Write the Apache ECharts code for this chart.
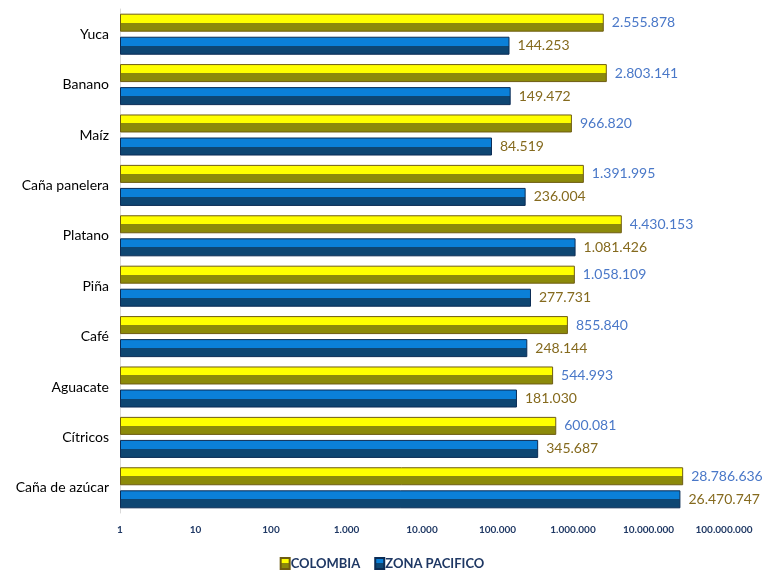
<!DOCTYPE html>
<html>
<head>
<meta charset="utf-8">
<script src="https://cdn.jsdelivr.net/npm/echarts@6/dist/echarts.min.js"></script>
<style>
  html, body { margin: 0; padding: 0; background: #fff; }
  #chart { width: 764px; height: 576px; }
</style>
</head>
<body>
<div id="chart"></div>
<script>
// cultivos, de arriba hacia abajo
var cultivos = ['Yuca', 'Banano', 'Maíz', 'Caña panelera', 'Platano', 'Piña', 'Café', 'Aguacate', 'Cítricos', 'Caña de azúcar']
var colombia = [2555878, 2803141, 966820, 1391995, 4430153, 1058109, 855840, 544993, 600081, 28786636]
var zonaPacifico = [144253, 149472, 84519, 236004, 1081426, 277731, 248144, 181030, 345687, 26470747]
var ejeMin = 1
var ejeMax = 100000000

// 1234567 -> 1.234.567
function puntos (v) {
  return String(Math.round(v)).replace(/\B(?=(\d{3})+(?!\d))/g, '.')
}

// relleno con bisel: mitad de arriba clara, mitad de abajo oscura
function bisel (claro, oscuro) {
  return new echarts.graphic.LinearGradient(0, 0, 0, 1, [
    { offset: 0, color: claro },
    { offset: 0.5, color: claro },
    { offset: 0.5, color: oscuro },
    { offset: 1, color: oscuro }
  ])
}

var chart = echarts.init(document.getElementById('chart'))
chart.setOption({
  animation: false,
  grid: { left: 120, right: 40, top: 9, bottom: 63 },
  legend: {
    bottom: 1,
    left: 'center',
    icon: 'rect',
    itemWidth: 9,
    itemHeight: 11,
    itemGap: 14,
    textStyle: {
      fontFamily: 'Lato',
      fontWeight: 'bold',
      fontSize: 13,
      color: '#1f3864',
      padding: [0, 0, 0, -4]
    },
    data: ['COLOMBIA', 'ZONA PACIFICO']
  },
  xAxis: {
    type: 'log',
    logBase: 10,
    min: ejeMin,
    max: ejeMax,
    axisLine: { show: false },
    axisTick: { show: false },
    splitLine: { show: false },
    axisLabel: {
      margin: 12,
      fontFamily: 'Lato',
      fontWeight: 'bold',
      fontSize: 10,
      color: '#1f3864',
      formatter: function (v) { return puntos(v) }
    }
  },
  yAxis: {
    type: 'category',
    inverse: true,
    data: cultivos,
    axisLine: { show: true, lineStyle: { color: '#d9d9d9', width: 1 } },
    axisTick: { show: false },
    axisLabel: {
      margin: 11,
      fontFamily: 'Lato',
      fontSize: 14,
      color: '#000'
    }
  },
  series: [
    {
      name: 'COLOMBIA',
      type: 'bar',
      data: colombia,
      barWidth: 18,
      barGap: '28%',
      itemStyle: {
        color: bisel('#ffff00', '#8c8a0a'),
        borderColor: '#6e5c12',
        borderWidth: 1
      },
      label: {
        show: true,
        position: 'right',
        distance: 8,
        fontFamily: 'Lato',
        fontSize: 14,
        color: '#4a78c8',
        formatter: function (p) { return puntos(p.value) }
      }
    },
    {
      name: 'ZONA PACIFICO',
      type: 'bar',
      data: zonaPacifico,
      barWidth: 18,
      itemStyle: {
        color: bisel('#0b80d8', '#0e4672'),
        borderColor: '#0b2c55',
        borderWidth: 1
      },
      label: {
        show: true,
        position: 'right',
        distance: 8,
        fontFamily: 'Lato',
        fontSize: 14,
        color: '#856a1e',
        formatter: function (p) { return puntos(p.value) }
      }
    }
  ]
})
</script>
</body>
</html>
